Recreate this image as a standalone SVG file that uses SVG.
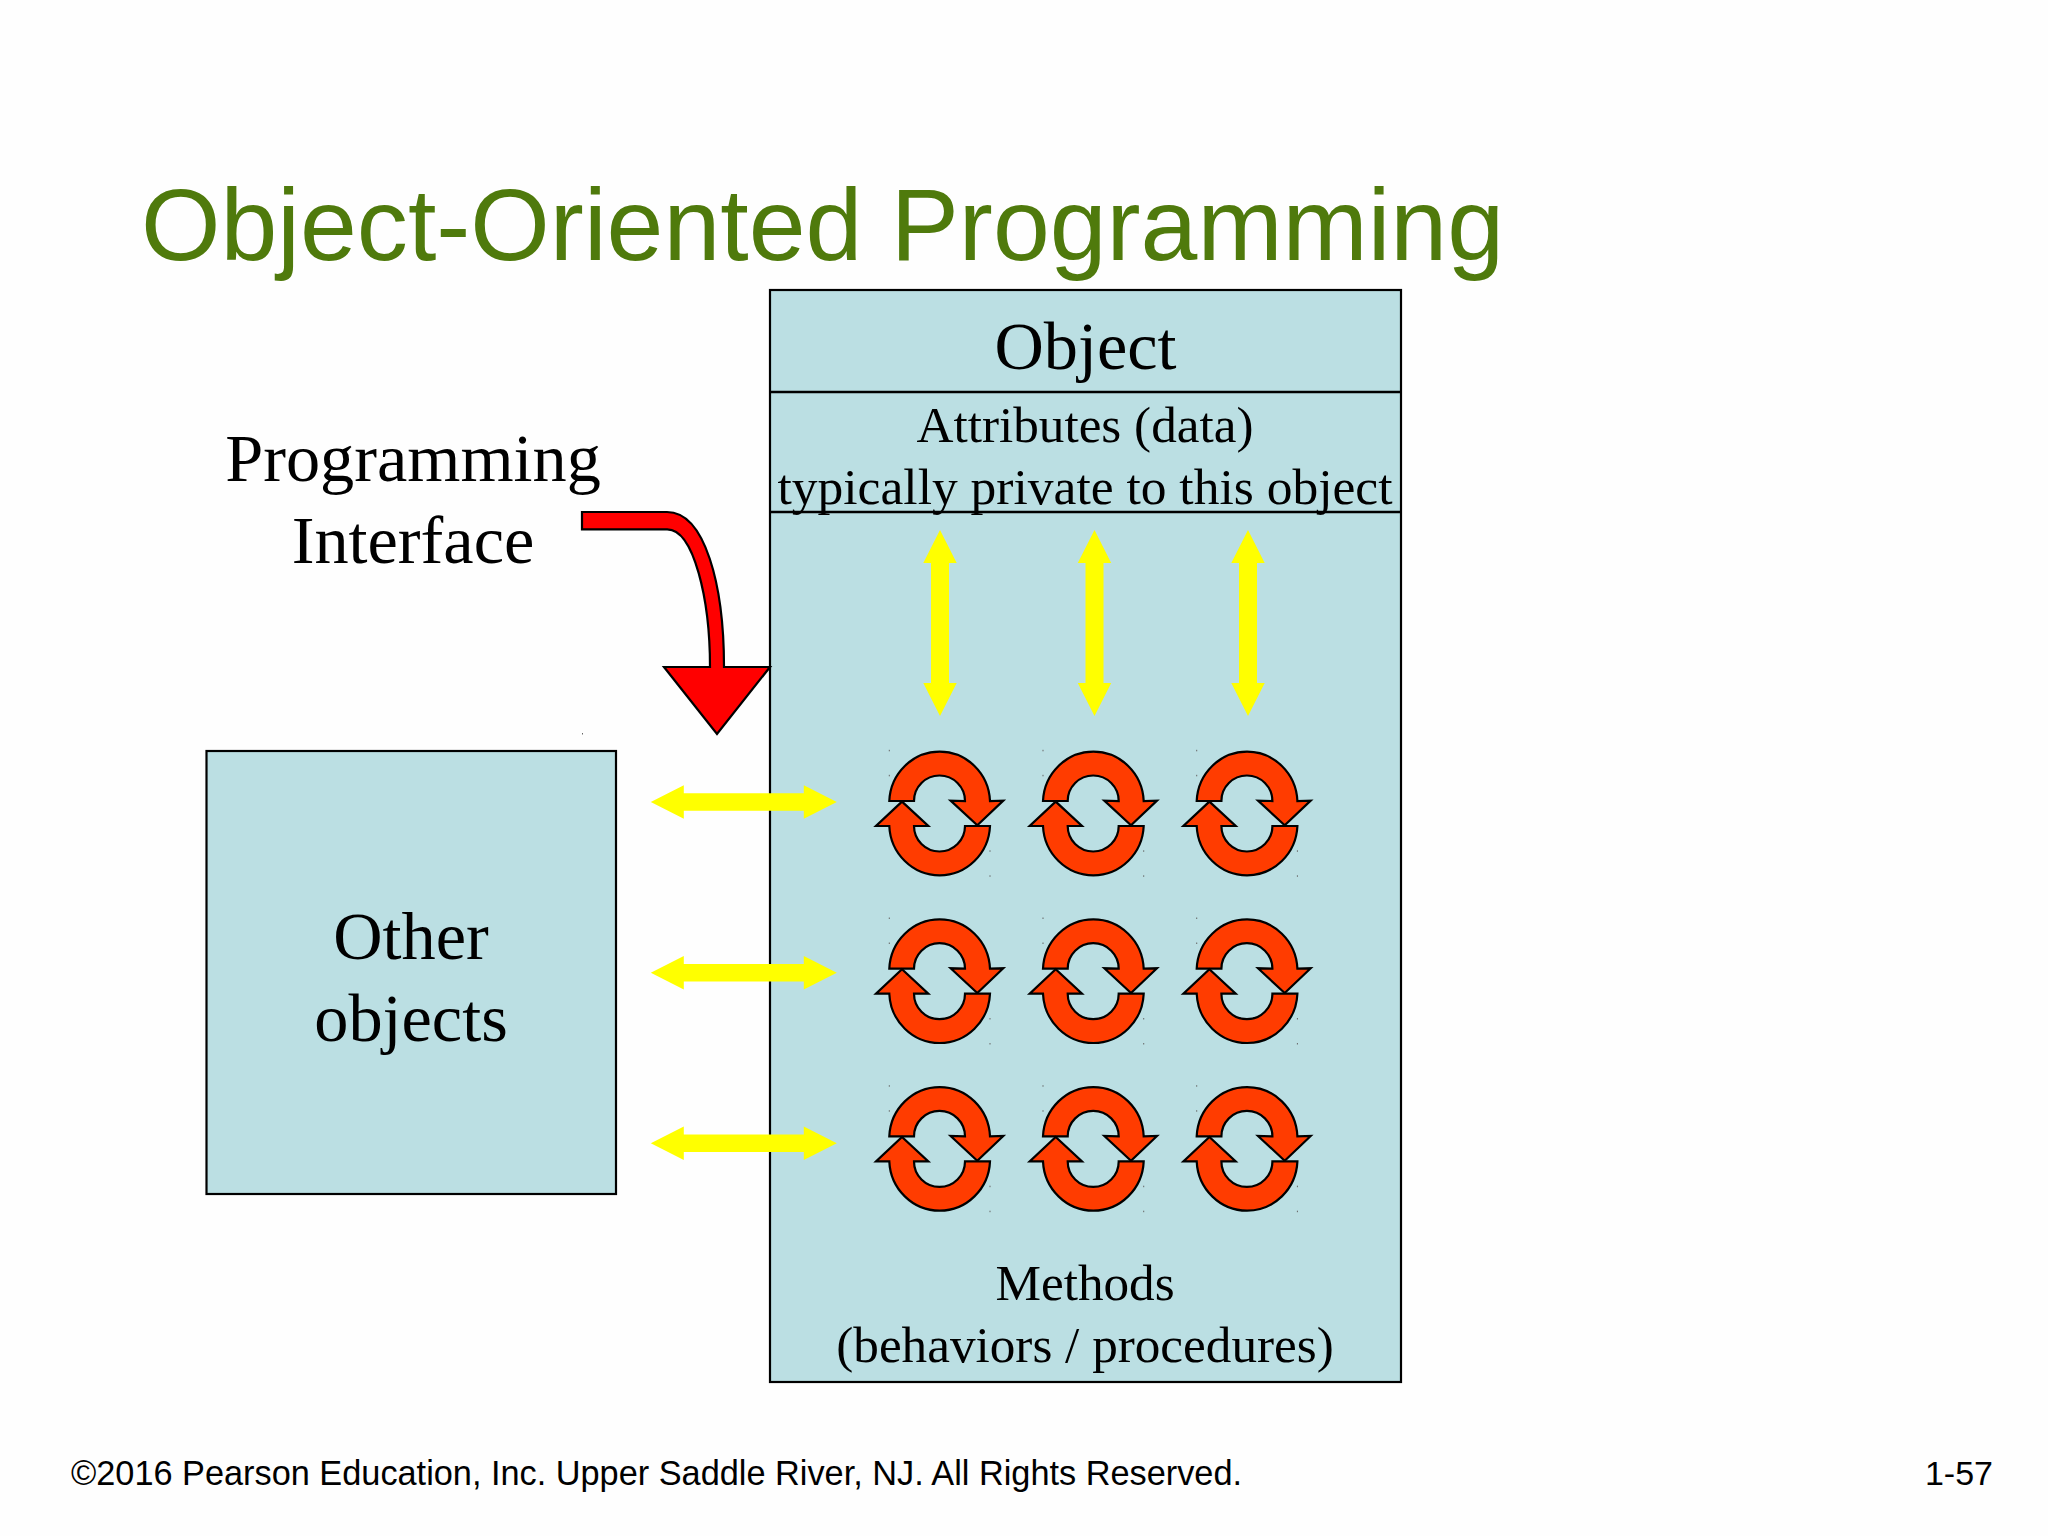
<svg xmlns="http://www.w3.org/2000/svg" width="2048" height="1536" viewBox="0 0 2048 1536">
<style>
.box{fill:#bbdfe3;stroke:#000;stroke-width:2.2}
.div{stroke:#000;stroke-width:2.5}
.t{font-family:"Liberation Serif","Times New Roman",serif;fill:#000;text-anchor:middle}
.big{font-size:68.300px}
.mid{font-size:51.200px}
.s{font-family:"Liberation Sans",Arial,sans-serif}
.ya{fill:#ffff00}
.ic{fill:#ff3c00;stroke:#000;stroke-width:2.2;stroke-linejoin:miter}
.dot{fill:#666}
</style>
<defs>
<g id="cycle">
<path class="ic" d="M-50,-12.3 A50.4 51.600 0 0 1 50.7,-12.3 L64,-12.7 L38,12 L11.3,-12.7 L25.7,-12.3 A25.5 25.5 0 0 0 -25.3,-12.3 Z"/>
<path class="ic" d="M50.7,12.7 A50.4 51.600 0 0 1 -50,12.7 L-63.3,12.7 L-37.3,-11.7 L-11,12.7 L-25.3,12.7 A25.5 25.5 0 0 0 25.7,12.7 Z"/>
<rect class="dot" x="-50.5" y="-63.5" width="1" height="1.5"/>
<rect class="dot" x="-50.5" y="-38.5" width="1" height="1.5"/>
<rect class="dot" x="50.2" y="37" width="1" height="1.5"/>
<rect class="dot" x="50.2" y="62" width="1" height="1.5"/>
</g>
<path id="hArrow" class="ya" d="M-93,0 L-60,-16.7 L-60,-8.7 L60,-8.7 L60,-16.7 L93,0 L60,16.7 L60,8.7 L-60,8.7 L-60,16.7 Z"/>
<path id="vArrow" class="ya" d="M0,-93 L16.7,-60 L9,-60 L9,60 L16.7,60 L0,93 L-16.7,60 L-9,60 L-9,-60 L-16.7,-60 Z"/>
</defs>
<rect width="2048" height="1536" fill="#fefefe"/>
<g id="title"><text class="s" x="141" y="260" font-size="102.200" fill="#4f7a0c">Object-Oriented Programming</text></g>
<g id="object">
<rect class="box" x="770" y="290" width="631" height="1092"/>
<line class="div" x1="770" y1="392" x2="1401" y2="392"/>
<line class="div" x1="770" y1="512" x2="1401" y2="512"/>
<text class="t big" x="1085.500" y="369">Object</text>
<text class="t mid" x="1085" y="442">Attributes (data)</text>
<text class="t" x="1085" y="504" font-size="51.500">typically private to this object</text>
<text class="t mid" x="1085" y="1300">Methods</text>
<text class="t mid" x="1085" y="1362">(behaviors / procedures)</text>
</g>
<g id="other-objects">
<rect class="box" x="206.500" y="751" width="409.500" height="443"/>
<text class="t big" x="411" y="959">Other</text>
<text class="t big" x="411" y="1041">objects</text>
</g>
<g id="programming-interface">
<text class="t big" x="413" y="481">Programming</text>
<text class="t big" x="413" y="563">Interface</text>
</g>
<g id="methods">
<g id="m11"><use href="#cycle" x="939.300" y="813.300"/></g>
<g id="m12"><use href="#cycle" x="1093" y="813.300"/></g>
<g id="m13"><use href="#cycle" x="1246.700" y="813.300"/></g>
<g id="m21"><use href="#cycle" x="939.300" y="981"/></g>
<g id="m22"><use href="#cycle" x="1093" y="981"/></g>
<g id="m23"><use href="#cycle" x="1246.700" y="981"/></g>
<g id="m31"><use href="#cycle" x="939.300" y="1148.700"/></g>
<g id="m32"><use href="#cycle" x="1093" y="1148.700"/></g>
<g id="m33"><use href="#cycle" x="1246.700" y="1148.700"/></g>
</g>
<g id="connectors">
<path d="M582,512 L667,512 C705,512 724,585 724,667 L770,667 L717,734 L664,667 L710,667 C710,600 694,529 667,529.300 L582,529.300 Z" fill="#ff0000" stroke="#000" stroke-width="2.2"/>
<rect class="dot" x="582" y="733" width="1" height="1.5"/>
<use href="#vArrow" x="940" y="623"/>
<use href="#vArrow" x="1094.500" y="623"/>
<use href="#vArrow" x="1248" y="623"/>
<use href="#hArrow" x="743.800" y="802"/>
<use href="#hArrow" x="743.800" y="972.700"/>
<use href="#hArrow" x="743.800" y="1143.300"/>
</g>
<g id="footer">
<text class="s" x="71" y="1485" font-size="34.300">©2016 Pearson Education, Inc. Upper Saddle River, NJ. All Rights Reserved.</text>
<text class="s" x="1993" y="1485" font-size="34" text-anchor="end">1-57</text>
</g>
</svg>
